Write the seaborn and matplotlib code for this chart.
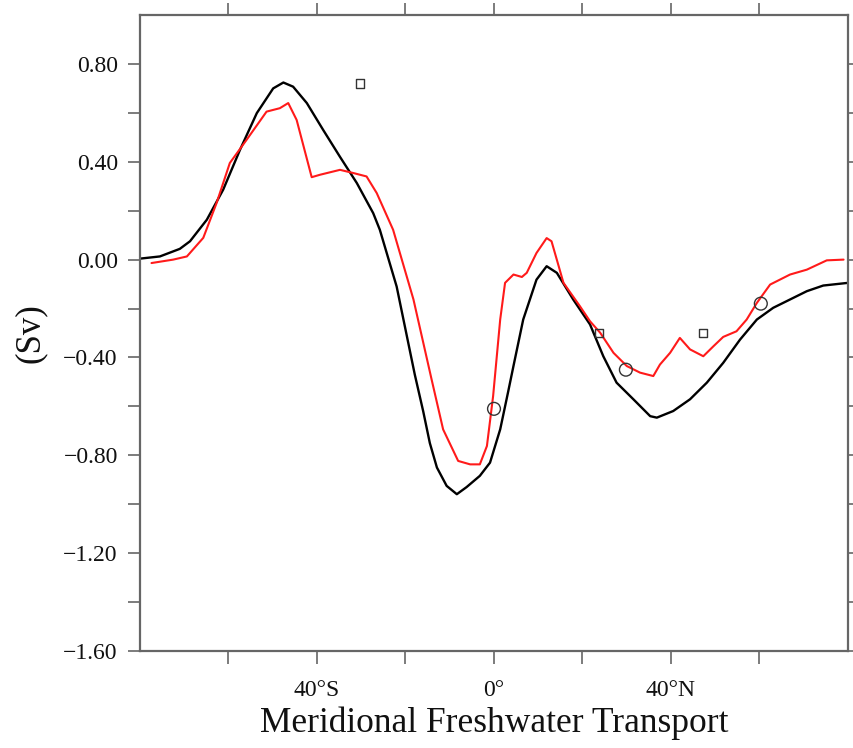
import matplotlib
matplotlib.use("Agg")
import matplotlib.pyplot as plt
import numpy as np
import pandas as pd
import seaborn as sns

# Meridional freshwater transport (Sv) against latitude (deg, negative = south)
lat_black = [-80, -75.5, -71, -68.7, -64.9, -61.2, -57.4, -53.6, -49.9, -47.6,
             -45.4, -42.3, -38.6, -34.8, -31.0, -27.3, -25.8, -22.0, -17.9, -16.0,
             -14.5, -12.9, -10.7, -8.4, -6.2, -3.2, -0.9, 1.4, 3.2, 4.4,
             6.6, 9.6, 11.9, 14.2, 17.9, 21.7, 24.7, 27.7, 31.5, 35.3,
             36.8, 40.5, 44.3, 48.1, 51.8, 55.6, 59.4, 63.1, 66.9, 70.7,
             74.4, 80.0]
fwt_black = [0.004, 0.013, 0.044, 0.075, 0.163, 0.286, 0.449, 0.599, 0.700, 0.724,
             0.707, 0.640, 0.530, 0.420, 0.313, 0.190, 0.122, -0.110, -0.470, -0.620,
             -0.750, -0.850, -0.925, -0.959, -0.930, -0.884, -0.830, -0.694, -0.540, -0.435,
             -0.245, -0.082, -0.027, -0.054, -0.163, -0.265, -0.395, -0.503, -0.571, -0.640,
             -0.646, -0.619, -0.571, -0.503, -0.422, -0.327, -0.245, -0.197, -0.163, -0.129,
             -0.106, -0.095]

lat_red = [-77.4, -72.5, -69.4, -65.7, -62.7, -59.7, -55.9, -51.4, -48.4, -46.5,
           -44.6, -41.2, -39.3, -34.8, -31.8, -28.8, -26.5, -22.8, -18.2, -14.1,
           -11.5, -8.1, -5.4, -3.2, -1.6, -0.2, 1.4, 2.5, 4.4, 6.3,
           7.4, 9.6, 11.9, 13.0, 15.7, 19.4, 21.7, 24.0, 27.0, 30.0,
           33.0, 36.0, 37.5, 39.8, 42.0, 44.3, 47.3, 49.6, 51.8, 54.8,
           57.1, 59.4, 62.4, 66.9, 70.7, 75.2, 79.0]
fwt_red = [-0.014, 0.000, 0.013, 0.089, 0.231, 0.395, 0.490, 0.605, 0.619, 0.640,
           0.571, 0.337, 0.347, 0.367, 0.354, 0.340, 0.272, 0.122, -0.163, -0.490,
           -0.694, -0.823, -0.837, -0.837, -0.762, -0.558, -0.245, -0.095, -0.061, -0.071,
           -0.054, 0.027, 0.088, 0.075, -0.095, -0.190, -0.252, -0.299, -0.381, -0.435,
           -0.462, -0.476, -0.429, -0.381, -0.320, -0.367, -0.395, -0.354, -0.316, -0.293,
           -0.245, -0.177, -0.102, -0.061, -0.041, -0.003, 0.000]

# Observational estimates
obs_sq_lat = [-30.3, 23.8, 47.3]
obs_sq_fwt = [0.72, -0.30, -0.30]
obs_ci_lat = [0.0, 29.8, 60.3]
obs_ci_fwt = [-0.61, -0.45, -0.18]

xtick_major = [-40, 0, 40]
xtick_labels = ["40°S", "0°", "40°N"]
xtick_minor = [-60, -20, 20, 60]
ytick_major = [0.8, 0.4, 0.0, -0.4, -0.8, -1.2, -1.6]
ytick_minor = [0.6, 0.2, -0.2, -0.6, -1.0, -1.4]

sns.set_theme(style="white")
plt.rcParams["font.family"] = ["Liberation Serif", "DejaVu Serif"]

fig = plt.figure(figsize=(8.54, 7.48), dpi=100)
ax = fig.add_axes([140 / 854, 1 - 651 / 748, 708 / 854, 636 / 748])

df_black = pd.DataFrame({"lat": lat_black, "fwt": fwt_black})
df_red = pd.DataFrame({"lat": lat_red, "fwt": fwt_red})
sns.lineplot(data=df_black, x="lat", y="fwt", ax=ax, color="black",
             linewidth=1.7, sort=False, estimator=None)
sns.lineplot(data=df_red, x="lat", y="fwt", ax=ax, color="#ff1a1a",
             linewidth=1.5, sort=False, estimator=None)

sns.scatterplot(x=obs_sq_lat, y=obs_sq_fwt, ax=ax, marker="s", s=36,
                facecolor="none", edgecolor="#333333", linewidth=1.0, zorder=5)
sns.scatterplot(x=obs_ci_lat, y=obs_ci_fwt, ax=ax, marker="o", s=85,
                facecolor="none", edgecolor="#333333", linewidth=1.0, zorder=5)

ax.set_xlim(-80, 80)
ax.set_ylim(-1.6, 1.0)

ax.set_xticks(xtick_major)
ax.set_xticklabels(xtick_labels)
ax.set_xticks(xtick_minor, minor=True)
ax.set_yticks(ytick_major)
ax.set_yticklabels([f"{v:.2f}".replace("-", "\u2212") if abs(v) > 1e-9 else "0.00"
                    for v in ytick_major])
ax.set_yticks(ytick_minor, minor=True)

spine_col = "#666666"
for sp in ax.spines.values():
    sp.set_visible(True)
    sp.set_color(spine_col)
    sp.set_linewidth(1.6)

ax.tick_params(which="both", direction="out", length=9, width=1.2,
               color=spine_col, top=True, right=True, bottom=True, left=True)
ax.tick_params(axis="y", which="major", labelsize=17, pad=7)
ax.tick_params(axis="x", which="major", labelsize=17, pad=12)
for lab in ax.get_xticklabels() + ax.get_yticklabels():
    lab.set_color("#111111")

ax.set_xlabel("Meridional Freshwater Transport", fontsize=25.5, labelpad=4,
              color="#111111")
ax.set_ylabel("(Sv)", fontsize=25, labelpad=12, color="#111111")
ax.grid(False)

fig.savefig("out.png", dpi=100, facecolor="white")
